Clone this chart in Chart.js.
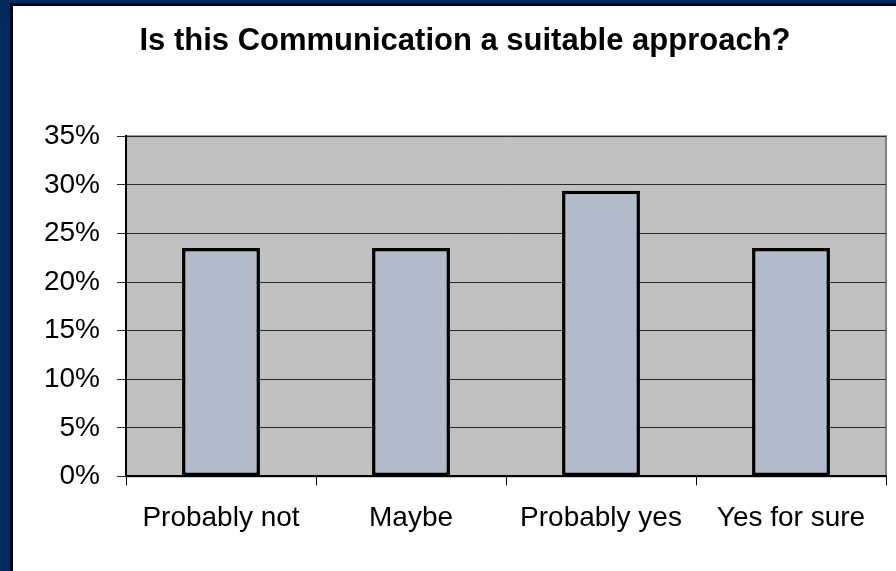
<!DOCTYPE html>
<html>
<head>
<meta charset="utf-8">
<script src="https://cdn.jsdelivr.net/npm/chart.js@4"></script>
<style>
  html, body { margin: 0; padding: 0; }
  body { width: 896px; height: 571px; background: #002a5c; overflow: hidden; position: relative; }
  #panel { position: absolute; left: 10px; top: 3px; width: 886px; height: 568px; background: #000; }
  #inner { position: absolute; left: 3px; top: 3px; width: 883px; height: 565px; background: #fff; }
  canvas { display: block; }
</style>
</head>
<body>
<div id="panel"><div id="inner"><canvas id="answers" width="883" height="565"></canvas></div></div>
<script>
const categories = ['Probably not', 'Maybe', 'Probably yes', 'Yes for sure']
const shares = [23.5, 23.5, 29.4, 23.5]
const yTicks = [0, 5, 10, 15, 20, 25, 30, 35]

// gray plot area like the old Excel charts
const plotBackground = {
  id: 'plotBackground',
  beforeDraw(chart) {
    const { ctx, chartArea: a } = chart
    ctx.save()
    ctx.fillStyle = '#c0c0c0'
    ctx.fillRect(a.left, a.top, a.right - a.left, a.bottom - a.top)
    ctx.strokeStyle = '#808080'
    ctx.lineWidth = 2
    ctx.strokeRect(a.left, a.top, a.right - a.left, a.bottom - a.top)
    ctx.restore()
  }
}

new Chart(document.getElementById('answers'), {
  type: 'bar',
  data: {
    labels: categories,
    datasets: [{
      data: shares,
      backgroundColor: '#b4bccc',
      borderColor: '#000',
      borderWidth: 3.5,
      borderSkipped: false,
      categoryPercentage: 1,
      barPercentage: 0.41
    }]
  },
  options: {
    responsive: false,
    animation: false,
    layout: { padding: { left: 31, right: 10, top: 0, bottom: 20 } },
    plugins: {
      legend: { display: false },
      tooltip: { enabled: false },
      title: {
        display: true,
        text: 'Is this Communication a suitable approach?',
        color: '#000',
        font: { family: 'Liberation Sans', size: 31, weight: 'bold' },
        padding: { top: 17, bottom: 76 }
      }
    },
    scales: {
      x: {
        grid: { drawOnChartArea: false, drawTicks: true, tickLength: 9, color: '#000', offset: true },
        border: { color: '#000', width: 2 },
        ticks: { color: '#000', padding: 16, maxRotation: 0, font: { family: 'Liberation Sans', size: 28 } }
      },
      y: {
        min: 0,
        max: 35,
        afterBuildTicks(scale) { scale.ticks = yTicks.map(v => ({ value: v })) },
        afterFit(scale) { scale.width = 82 },
        grid: { color: '#2a2a2a', lineWidth: 1, tickLength: 9 },
        border: { color: '#000', width: 2 },
        ticks: {
          color: '#000',
          padding: 17,
          font: { family: 'Liberation Sans', size: 28 },
          callback: v => v + '%'
        }
      }
    }
  },
  plugins: [plotBackground]
})
</script>
</body>
</html>
